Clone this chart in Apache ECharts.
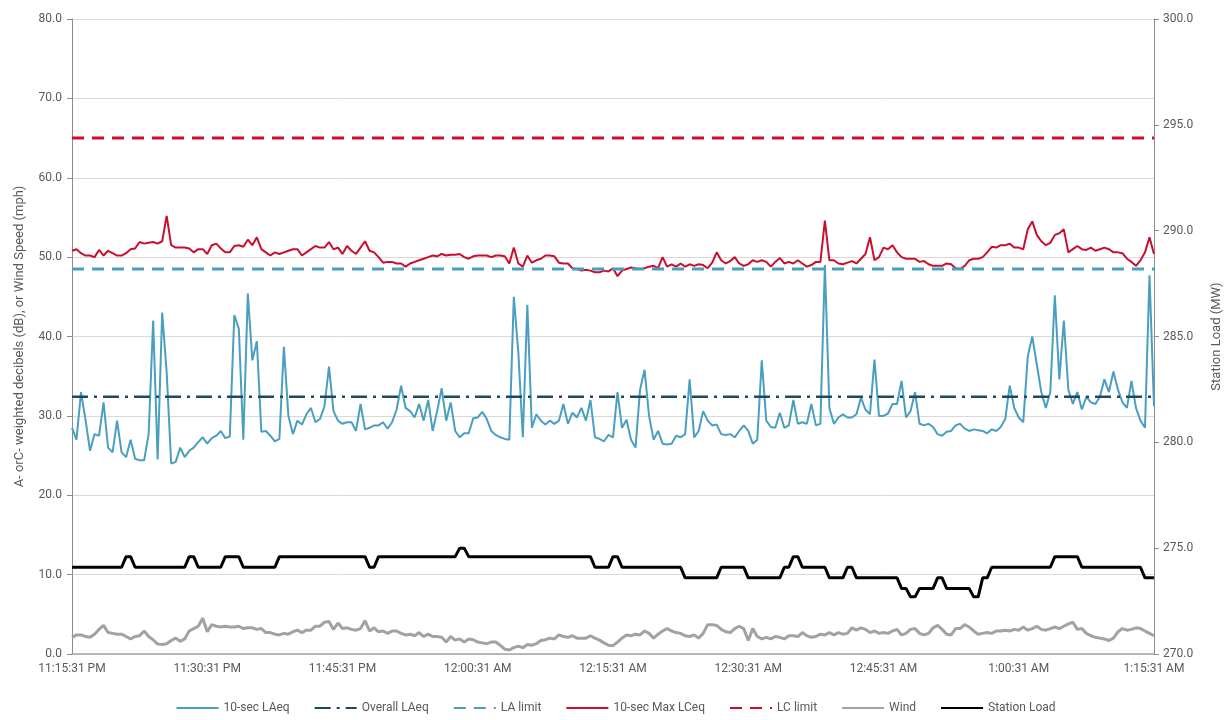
<!DOCTYPE html>
<html><head><meta charset="utf-8">
<script src="https://cdn.jsdelivr.net/npm/echarts@6/dist/echarts.min.js"></script>
<style>html,body{margin:0;padding:0;background:#fff}#c{width:1231px;height:720px}</style>
</head><body><div id="c"></div>
<script>
// X axis tick labels (every 15 minutes, 11:15:31 PM .. 1:15:31 AM)
const tickLabels = ['11:15:31 PM','11:30:31 PM','11:45:31 PM','12:00:31 AM','12:15:31 AM','12:30:31 AM','12:45:31 AM','1:00:31 AM','1:15:31 AM'];
const sampleStepMin = 0.5; // readings every 30 s (minutes from 11:15:31 PM)

const laeq10s = [
28.5,27.0,33.0,29.5,25.6,27.7,27.5,31.7,26.0,25.4,
29.4,25.4,24.8,27.0,24.6,24.4,24.4,27.7,42.0,24.5,
43.0,35.5,24.0,24.2,26.0,24.8,25.6,26.0,26.7,27.3,
26.5,27.2,27.5,28.1,27.2,27.4,42.7,41.0,27.0,45.4,
37.0,39.4,28.0,28.1,27.5,26.8,27.1,38.7,30.0,27.7,
29.4,28.9,30.2,31.0,29.2,29.6,31.2,36.2,30.6,29.4,
29.0,29.2,29.2,28.1,31.5,28.3,28.5,28.8,28.8,29.2,
28.4,29.2,30.8,33.8,31.0,30.6,29.8,31.5,29.4,32.0,
28.1,30.6,33.5,29.4,31.7,28.1,27.3,27.8,27.8,29.7,
29.8,30.5,29.6,28.1,27.6,27.3,27.1,27.0,45.0,38.0,
27.3,44.0,28.5,30.2,29.4,28.9,29.4,29.0,29.4,31.5,
29.0,30.4,29.8,31.0,29.4,32.0,27.3,27.1,26.8,27.6,
27.3,33.0,28.5,29.5,27.0,26.0,33.3,35.8,30.0,27.0,
28.1,26.5,26.4,26.5,27.5,27.3,27.7,34.6,27.3,28.1,
30.6,29.4,28.8,28.9,27.7,27.6,27.7,27.3,28.1,28.8,
28.1,26.5,27.0,37.0,29.4,28.6,28.5,30.4,28.5,28.8,
32.0,29.0,29.2,29.0,31.5,28.8,29.0,49.0,31.0,29.0,
29.8,30.2,29.8,29.8,30.2,32.3,30.8,30.2,37.1,30.0,
30.0,30.3,31.5,31.5,34.4,29.8,30.6,33.0,29.0,28.8,
29.0,28.6,27.7,27.5,28.0,28.1,28.8,29.0,28.4,28.1,
28.3,28.2,28.1,27.8,28.3,28.1,28.6,29.6,33.8,31.0,
29.8,29.2,37.5,40.0,36.5,33.0,31.0,33.0,45.2,34.6,
42.0,33.3,31.5,33.0,30.8,32.4,31.7,31.5,32.4,34.6,
33.0,35.6,33.3,31.7,31.0,34.4,31.0,29.4,28.5,47.7,31.2
];

const lceqMax10s = [
50.8,51.0,50.5,50.2,50.2,50.0,50.9,50.2,50.8,50.5,
50.2,50.2,50.5,51.0,51.1,51.9,51.7,51.8,51.9,51.7,
52.0,55.2,51.5,51.2,51.2,51.2,51.1,50.6,51.0,51.0,
50.4,51.5,51.7,51.1,50.6,50.6,51.4,51.5,51.3,52.2,
51.5,52.5,51.0,50.6,50.2,50.6,50.4,50.6,50.8,51.0,
51.0,50.2,50.6,51.0,51.4,51.2,51.2,51.9,51.0,51.2,
50.4,51.4,50.8,50.4,51.2,52.0,50.8,50.6,50.0,49.3,
49.4,49.4,49.2,49.2,48.8,49.2,49.4,49.6,49.8,50.0,
50.2,50.1,50.4,50.2,50.3,50.3,50.4,50.0,49.8,50.1,
50.2,50.2,50.2,50.0,50.2,50.2,50.1,49.2,51.2,49.2,
48.8,50.2,49.3,49.6,49.8,50.2,50.2,50.1,49.3,49.2,
49.2,48.6,48.5,48.3,48.4,48.3,48.1,48.1,48.3,48.2,
48.6,47.6,48.3,48.5,48.7,48.6,48.5,48.6,48.8,48.9,
48.6,50.0,48.8,49.1,48.8,49.2,48.8,49.1,48.9,49.1,
49.0,48.6,49.3,50.6,49.6,49.2,49.5,50.0,49.2,48.9,
49.1,49.6,49.4,49.6,49.4,48.8,49.4,49.9,49.2,49.4,
49.2,49.6,49.2,48.8,49.0,49.4,49.4,54.6,49.6,49.6,
49.2,49.1,49.3,49.5,49.2,49.8,50.4,52.5,49.6,50.0,
51.2,51.0,51.5,50.6,50.0,49.8,49.8,49.8,49.4,49.5,
49.1,48.9,48.9,48.9,49.2,49.1,48.6,48.5,48.9,49.6,
49.8,49.8,50.0,50.6,51.3,51.2,51.5,51.5,51.7,51.2,
51.2,51.0,53.5,54.5,52.8,52.0,51.5,51.8,52.8,53.0,
53.5,50.6,51.0,51.4,51.0,50.9,51.2,50.8,51.0,51.2,
51.0,50.6,50.6,50.5,49.8,49.4,48.9,49.6,50.6,52.5,50.4
];

const wind = [
2.1,2.4,2.4,2.2,2.1,2.5,3.1,3.6,2.7,2.6,
2.5,2.5,2.2,1.9,2.2,2.3,2.9,2.2,1.8,1.25,
1.2,1.3,1.7,2.0,1.6,1.9,2.9,3.2,3.5,4.5,
2.8,3.7,3.5,3.4,3.5,3.4,3.4,3.5,3.2,3.3,
3.3,3.1,3.2,2.7,2.7,2.5,2.4,2.6,2.5,2.8,
3.0,2.7,3.0,3.0,3.5,3.5,4.0,4.1,3.1,3.9,
3.2,3.3,3.1,3.0,3.2,4.2,2.9,3.3,2.8,2.9,
2.6,2.9,2.9,2.6,2.4,2.5,2.3,2.7,2.2,2.5,
2.2,2.2,2.1,1.5,2.2,1.75,1.9,1.5,1.9,1.8,
1.5,1.4,1.3,1.5,1.5,1.1,0.6,0.5,0.8,1.0,
0.8,1.2,1.1,1.3,1.7,1.8,2.0,1.9,2.4,2.2,
2.1,2.3,2.0,2.0,2.0,2.3,2.0,1.75,1.4,1.1,
1.05,1.5,2.0,2.4,2.3,2.5,2.4,2.9,2.6,2.0,
2.5,2.9,3.2,2.9,2.7,2.6,2.3,2.2,2.4,2.0,
2.6,3.7,3.7,3.6,3.1,2.8,2.7,3.2,3.5,3.2,
1.7,3.2,2.2,1.9,2.1,1.9,2.2,2.1,1.9,2.3,
2.3,2.2,2.7,2.3,2.1,2.2,2.5,2.4,2.7,2.4,
2.7,2.5,2.6,3.3,3.0,3.3,3.1,2.7,2.9,2.6,
2.7,2.6,2.9,3.1,2.4,2.6,3.1,3.2,2.6,2.4,
2.6,3.3,3.6,3.1,2.5,2.4,3.2,3.2,3.7,3.4,
2.9,2.5,2.6,2.7,2.6,2.9,2.9,3.0,2.9,3.1,
3.0,3.4,3.0,3.2,3.5,3.1,3.0,3.2,3.4,3.2,
3.5,3.8,4.0,3.1,3.2,2.6,2.3,2.1,2.0,1.9,
1.7,2.0,2.8,3.2,3.0,3.1,3.3,3.2,2.9,2.6,2.3
];

const stationLoad = [
274.1,274.1,274.1,274.1,274.1,274.1,274.1,274.1,274.1,274.1,274.1,274.1,
274.6,274.6,
274.1,274.1,274.1,274.1,274.1,274.1,274.1,274.1,274.1,274.1,274.1,274.1,
274.6,274.6,
274.1,274.1,274.1,274.1,274.1,274.1,
274.6,274.6,274.6,274.6,
274.1,274.1,274.1,274.1,274.1,274.1,274.1,274.1,
274.6,274.6,274.6,274.6,274.6,274.6,274.6,274.6,274.6,274.6,274.6,274.6,274.6,274.6,274.6,274.6,274.6,274.6,274.6,274.6,
274.1,274.1,
274.6,274.6,274.6,274.6,274.6,274.6,274.6,274.6,274.6,274.6,274.6,274.6,274.6,274.6,274.6,274.6,274.6,274.6,
275.0,275.0,
274.6,274.6,274.6,274.6,274.6,274.6,274.6,274.6,274.6,274.6,274.6,274.6,274.6,274.6,274.6,274.6,274.6,274.6,274.6,274.6,274.6,274.6,274.6,274.6,274.6,274.6,274.6,274.6,
274.1,274.1,274.1,274.1,
274.6,274.6,
274.1,274.1,274.1,274.1,274.1,274.1,274.1,274.1,274.1,274.1,274.1,274.1,274.1,274.1,
273.6,273.6,273.6,273.6,273.6,273.6,273.6,273.6,
274.1,274.1,274.1,274.1,274.1,274.1,
273.6,273.6,273.6,273.6,273.6,273.6,273.6,273.6,
274.1,274.1,
274.6,274.6,
274.1,274.1,274.1,274.1,274.1,274.1,
273.6,273.6,273.6,273.6,
274.1,274.1,
273.6,273.6,273.6,273.6,273.6,273.6,273.6,273.6,273.6,273.6,
273.1,273.1,
272.7,272.7,
273.1,273.1,273.1,273.1,
273.6,273.6,
273.1,273.1,273.1,273.1,273.1,273.1,
272.7,272.7,
273.6,273.6,
274.1,274.1,274.1,274.1,274.1,274.1,274.1,274.1,274.1,274.1,274.1,274.1,274.1,274.1,
274.6,274.6,274.6,274.6,274.6,274.6,
274.1,274.1,274.1,274.1,274.1,274.1,274.1,274.1,274.1,274.1,274.1,274.1,274.1,274.1,
273.6,273.6,273.6
];

const overallLAeq = 32.4;
const laLimit = 48.5;
const lcLimit = 65.0;
const xMinMin = 0, xMaxMin = 120;

const seriesNames = ['10-sec LAeq','Overall LAeq','LA limit','10-sec Max LCeq','LC limit','Wind','Station Load'];

const toXY = arr => arr.map((v, i) => [i * sampleStepMin, v]);
const flat = v => [[xMinMin, v], [xMaxMin, v]];

const FONT = 'Roboto, "Liberation Sans", sans-serif';
const TXT = '#595959';
const BLUE = '#4a9fc0', RED = '#c8102e', DARK = '#1d4a5c', GRAY = '#a0a2a4';

const chart = echarts.init(document.getElementById('c'), null, {renderer: 'canvas'});
chart.setOption({
  animation: false,
  backgroundColor: '#ffffff',
  textStyle: {fontFamily: FONT},
  grid: {left: 72, right: 76, top: 19, bottom: 66, containLabel: false},
  legend: {
    top: 697, left: 'center',
    itemWidth: 42, itemHeight: 14, itemGap: 24,
    itemStyle: {opacity: 0},
    textStyle: {color: TXT, fontSize: 12, fontFamily: FONT},
    data: seriesNames
  },
  xAxis: {
    type: 'value', min: xMinMin, max: xMaxMin, interval: 15,
    axisLine: {show: true, lineStyle: {color: '#a6a6a6', width: 1.5}},
    axisTick: {show: false},
    splitLine: {show: false},
    axisLabel: {color: TXT, fontSize: 12, margin: 9, formatter: v => tickLabels[Math.round(v / 15)]}
  },
  yAxis: [{
    type: 'value', min: 0, max: 80, interval: 10, position: 'left',
    name: 'A- orC- weighted decibels (dB), or Wind Speed (mph)',
    nameLocation: 'middle', nameGap: 46, nameRotate: 90,
    nameTextStyle: {color: TXT, fontSize: 13},
    axisLine: {show: true, lineStyle: {color: '#8c8c8c'}},
    axisTick: {show: true, length: 5, lineStyle: {color: '#8c8c8c'}},
    axisLabel: {color: TXT, fontSize: 12, margin: 10, formatter: v => v.toFixed(1)},
    splitLine: {show: true, lineStyle: {color: '#d9d9d9', width: 1}}
  }, {
    type: 'value', min: 270, max: 300, interval: 5, position: 'right',
    name: 'Station Load (MW)',
    nameLocation: 'middle', nameGap: 56, nameRotate: 90,
    nameTextStyle: {color: TXT, fontSize: 13},
    axisLine: {show: true, lineStyle: {color: '#8c8c8c'}},
    axisTick: {show: true, length: 5, lineStyle: {color: '#8c8c8c'}},
    axisLabel: {color: TXT, fontSize: 12, margin: 9, formatter: v => v.toFixed(1)},
    splitLine: {show: false}
  }],
  series: [
    {name: seriesNames[0], type: 'line', symbol: 'none', data: toXY(laeq10s),
     lineStyle: {color: BLUE, width: 2}, itemStyle: {color: BLUE}, z: 3},
    {name: seriesNames[1], type: 'line', symbol: 'none', data: flat(overallLAeq),
     lineStyle: {color: DARK, width: 2.5, type: [16, 6, 3, 6]}, itemStyle: {color: DARK}, z: 4},
    {name: seriesNames[2], type: 'line', symbol: 'none', data: flat(laLimit),
     lineStyle: {color: BLUE, width: 3, type: [12, 8]}, itemStyle: {color: BLUE}, z: 4},
    {name: seriesNames[3], type: 'line', symbol: 'none', data: toXY(lceqMax10s),
     lineStyle: {color: RED, width: 2}, itemStyle: {color: RED}, z: 3},
    {name: seriesNames[4], type: 'line', symbol: 'none', data: flat(lcLimit),
     lineStyle: {color: RED, width: 3, type: [12, 8]}, itemStyle: {color: RED}, z: 4},
    {name: seriesNames[5], type: 'line', symbol: 'none', data: toXY(wind),
     lineStyle: {color: GRAY, width: 3}, itemStyle: {color: GRAY}, z: 3},
    {name: seriesNames[6], type: 'line', symbol: 'none', yAxisIndex: 1, data: toXY(stationLoad),
     lineStyle: {color: '#000000', width: 3}, itemStyle: {color: '#000000'}, z: 3}
  ]
});
</script>
</body></html>
